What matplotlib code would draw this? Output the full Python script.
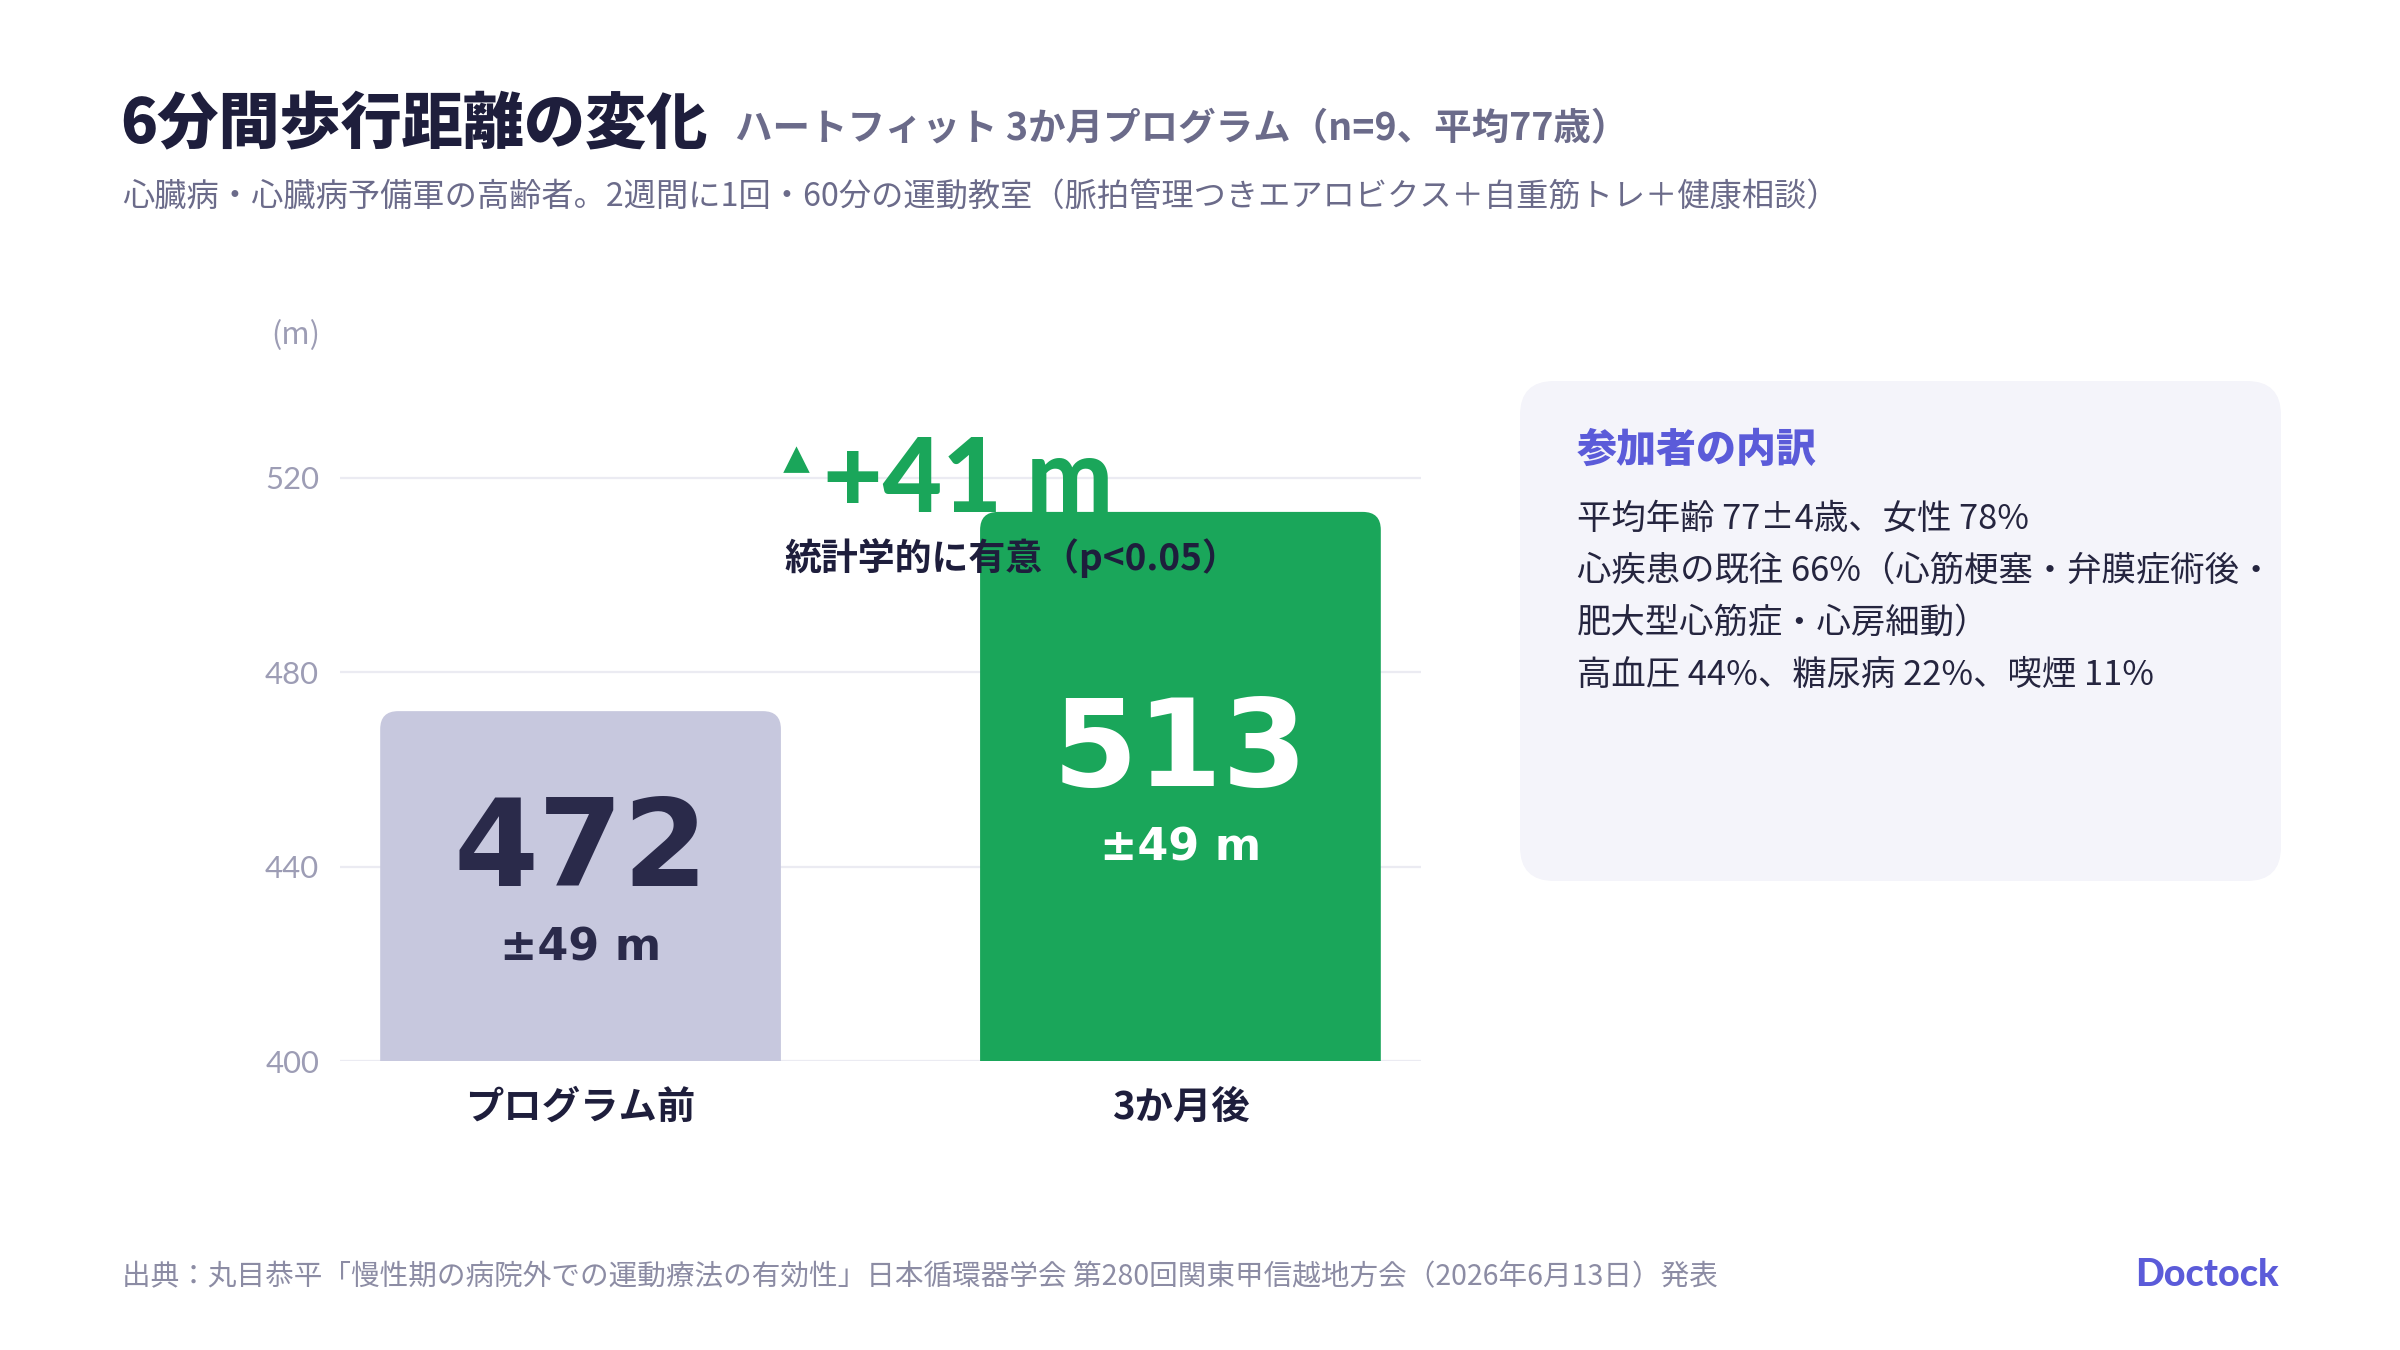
import matplotlib
matplotlib.use("Agg")
import matplotlib.pyplot as plt
import matplotlib.transforms as mtransforms
from matplotlib.lines import Line2D
from matplotlib.patches import FancyBboxPatch

# ─────────────────────────────────────────
#  data
# ─────────────────────────────────────────
categories = ["プログラム前", "3か月後"]
means = [472, 513]
sds = [49, 49]
y_ticks = [400, 440, 480, 520]
y_unit = "(m)"
diff_label = "+41 m"
sig_label = "統計学的に有意（p<0.05）"

title = "6分間歩行距離の変化"
subtitle = "ハートフィット 3か月プログラム（n=9、平均77歳）"
description = "心臓病・心臓病予備軍の高齢者。2週間に1回・60分の運動教室（脈拍管理つきエアロビクス＋自重筋トレ＋健康相談）"
panel_title = "参加者の内訳"
panel_lines = [
    "平均年齢 77±4歳、女性 78%",
    "心疾患の既往 66%（心筋梗塞・弁膜症術後・",
    "肥大型心筋症・心房細動）",
    "高血圧 44%、糖尿病 22%、喫煙 11%",
]
source = "出典：丸目恭平「慢性期の病院外での運動療法の有効性」日本循環器学会 第280回関東甲信越地方会（2026年6月13日）発表"
brand = "Doctock"

# colours
NAVY = "#1e1e3c"
MUTED = "#6b6b8a"
TICK = "#9d9db5"
GRID = "#ebebf2"
BAR_BEFORE = "#c7c8de"
BAR_AFTER = "#1aa65a"
BAR_TEXT = "#2a2a4a"
INDIGO = "#5b5bd9"
PANEL = "#f4f4fa"
FOOT = "#8c8ca4"

JP = ["Noto Sans CJK JP", "DejaVu Sans"]
NUM = ["Lato", "Noto Sans CJK JP", "DejaVu Sans"]
WIDE = ["DejaVu Sans"]
plt.rcParams["font.family"] = JP

W, H = 2400, 1350
DPI = 200
fig = plt.figure(figsize=(W / DPI, H / DPI), dpi=DPI)
fig.patch.set_facecolor("white")


def fx(x):
    return x / W


def fy(y):
    return 1 - y / H


def pt(px):
    return px * 72 / DPI


# ─────────────────────────────────────────
#  header
# ─────────────────────────────────────────
fig.text(fx(120), fy(142), title, fontsize=22, fontweight="black", color=NAVY, va="baseline")
fig.text(fx(735), fy(140), subtitle, fontsize=13.5, fontweight="bold", color=MUTED, va="baseline")
fig.text(fx(122), fy(197), description, fontsize=11.6, color=MUTED, va="center")

# ─────────────────────────────────────────
#  bar chart
# ─────────────────────────────────────────
AX_L, AX_R, AX_B, AX_T = 340, 1421, 1061, 405
XLIM = (-0.401, 1.401)
YLIM = (400, 535)
ax = fig.add_axes([fx(AX_L), fy(AX_B), fx(AX_R) - fx(AX_L), fy(AX_T) - fy(AX_B)])
ax.set_xlim(*XLIM)
ax.set_ylim(*YLIM)
for s in ax.spines.values():
    s.set_visible(False)
ax.set_yticks(y_ticks)
ax.set_xticks([])
ax.tick_params(axis="y", length=0, pad=pt(21), labelsize=11.2, labelcolor=TICK)
for lab in ax.get_yticklabels():
    lab.set_family(NUM)
ax.yaxis.grid(True, color=GRID, lw=0.8)
ax.set_axisbelow(True)

fig.text(fx(296), fy(336), y_unit, fontsize=11, color=TICK, ha="center", va="center")

xs = list(range(len(categories)))
width = 0.668
colors = [BAR_BEFORE, BAR_AFTER]
num_colors = [BAR_TEXT, "white"]

# rounded top corners: radius in pixels converted to data units
px_per_x = (AX_R - AX_L) / (XLIM[1] - XLIM[0])
px_per_y = (AX_B - AX_T) / (YLIM[1] - YLIM[0])
rx = 18 / px_per_x
aspect = px_per_x / px_per_y

for x, m, sd, c, tc in zip(xs, means, sds, colors, num_colors):
    base = 380  # below the axis so the bottom corners get clipped
    bar = FancyBboxPatch((x - width / 2, base), width, m - base,
                         boxstyle=f"round,pad=0,rounding_size={rx}",
                         mutation_aspect=aspect, fc=c, ec="none", zorder=2)
    ax.add_patch(bar)
    mid = (YLIM[0] + m) / 2
    t1 = mtransforms.offset_copy(ax.transData, fig=fig, x=0, y=pt(34), units="points")
    t2 = mtransforms.offset_copy(ax.transData, fig=fig, x=0, y=-pt(62), units="points")
    ax.text(x, mid, f"{m}", transform=t1, ha="center", va="center", fontsize=44,
            fontweight="bold", family=WIDE, color=tc, zorder=4)
    ax.text(x, mid, f"±{sd} m", transform=t2, ha="center", va="center", fontsize=16,
            fontweight="bold", family=WIDE, color=tc, zorder=4)

for x, cat in zip(xs, categories):
    tl = mtransforms.offset_copy(ax.transData, fig=fig, x=0, y=-pt(46.5), units="points")
    ax.text(x, YLIM[0], cat, transform=tl, ha="center", va="center", fontsize=13.8,
            fontweight="bold", color=NAVY, clip_on=False)

# difference annotation
fig.add_artist(Line2D([fx(795.5)], [fy(460)], marker="^", ms=pt(23), color=BAR_AFTER,
                      lw=0, transform=fig.transFigure))
fig.text(fx(823), fy(512), diff_label, fontsize=37, fontweight="black", family=NUM,
         color=BAR_AFTER, va="baseline", zorder=1)
fig.text(fx(784), fy(558), sig_label, fontsize=13.3, fontweight="bold", color=NAVY,
         va="center", zorder=5)

# ─────────────────────────────────────────
#  participant panel
# ─────────────────────────────────────────
panel = FancyBboxPatch((fx(1520), fy(881)), fx(2281) - fx(1520), fy(381) - fy(881),
                       boxstyle=f"round,pad=0,rounding_size={34 / W}",
                       mutation_aspect=W / H, transform=fig.transFigure,
                       fc=PANEL, ec="none", zorder=0)
fig.patches.append(panel)
fig.text(fx(1577), fy(450), panel_title, fontsize=14.4, fontweight="black", color=INDIGO, va="center")
for i, line in enumerate(panel_lines):
    fig.text(fx(1577), fy(519 + i * 52.3), line, fontsize=12.4, color="#25253f", va="center")

# ─────────────────────────────────────────
#  footer
# ─────────────────────────────────────────
fig.text(fx(122), fy(1277), source, fontsize=10.3, color=FOOT, va="center")
fig.text(fx(2279), fy(1275), brand, fontsize=13.6, fontweight="black", family=NUM,
         color=INDIGO, ha="right", va="center")

fig.savefig("out.png", dpi=DPI, facecolor="white")
